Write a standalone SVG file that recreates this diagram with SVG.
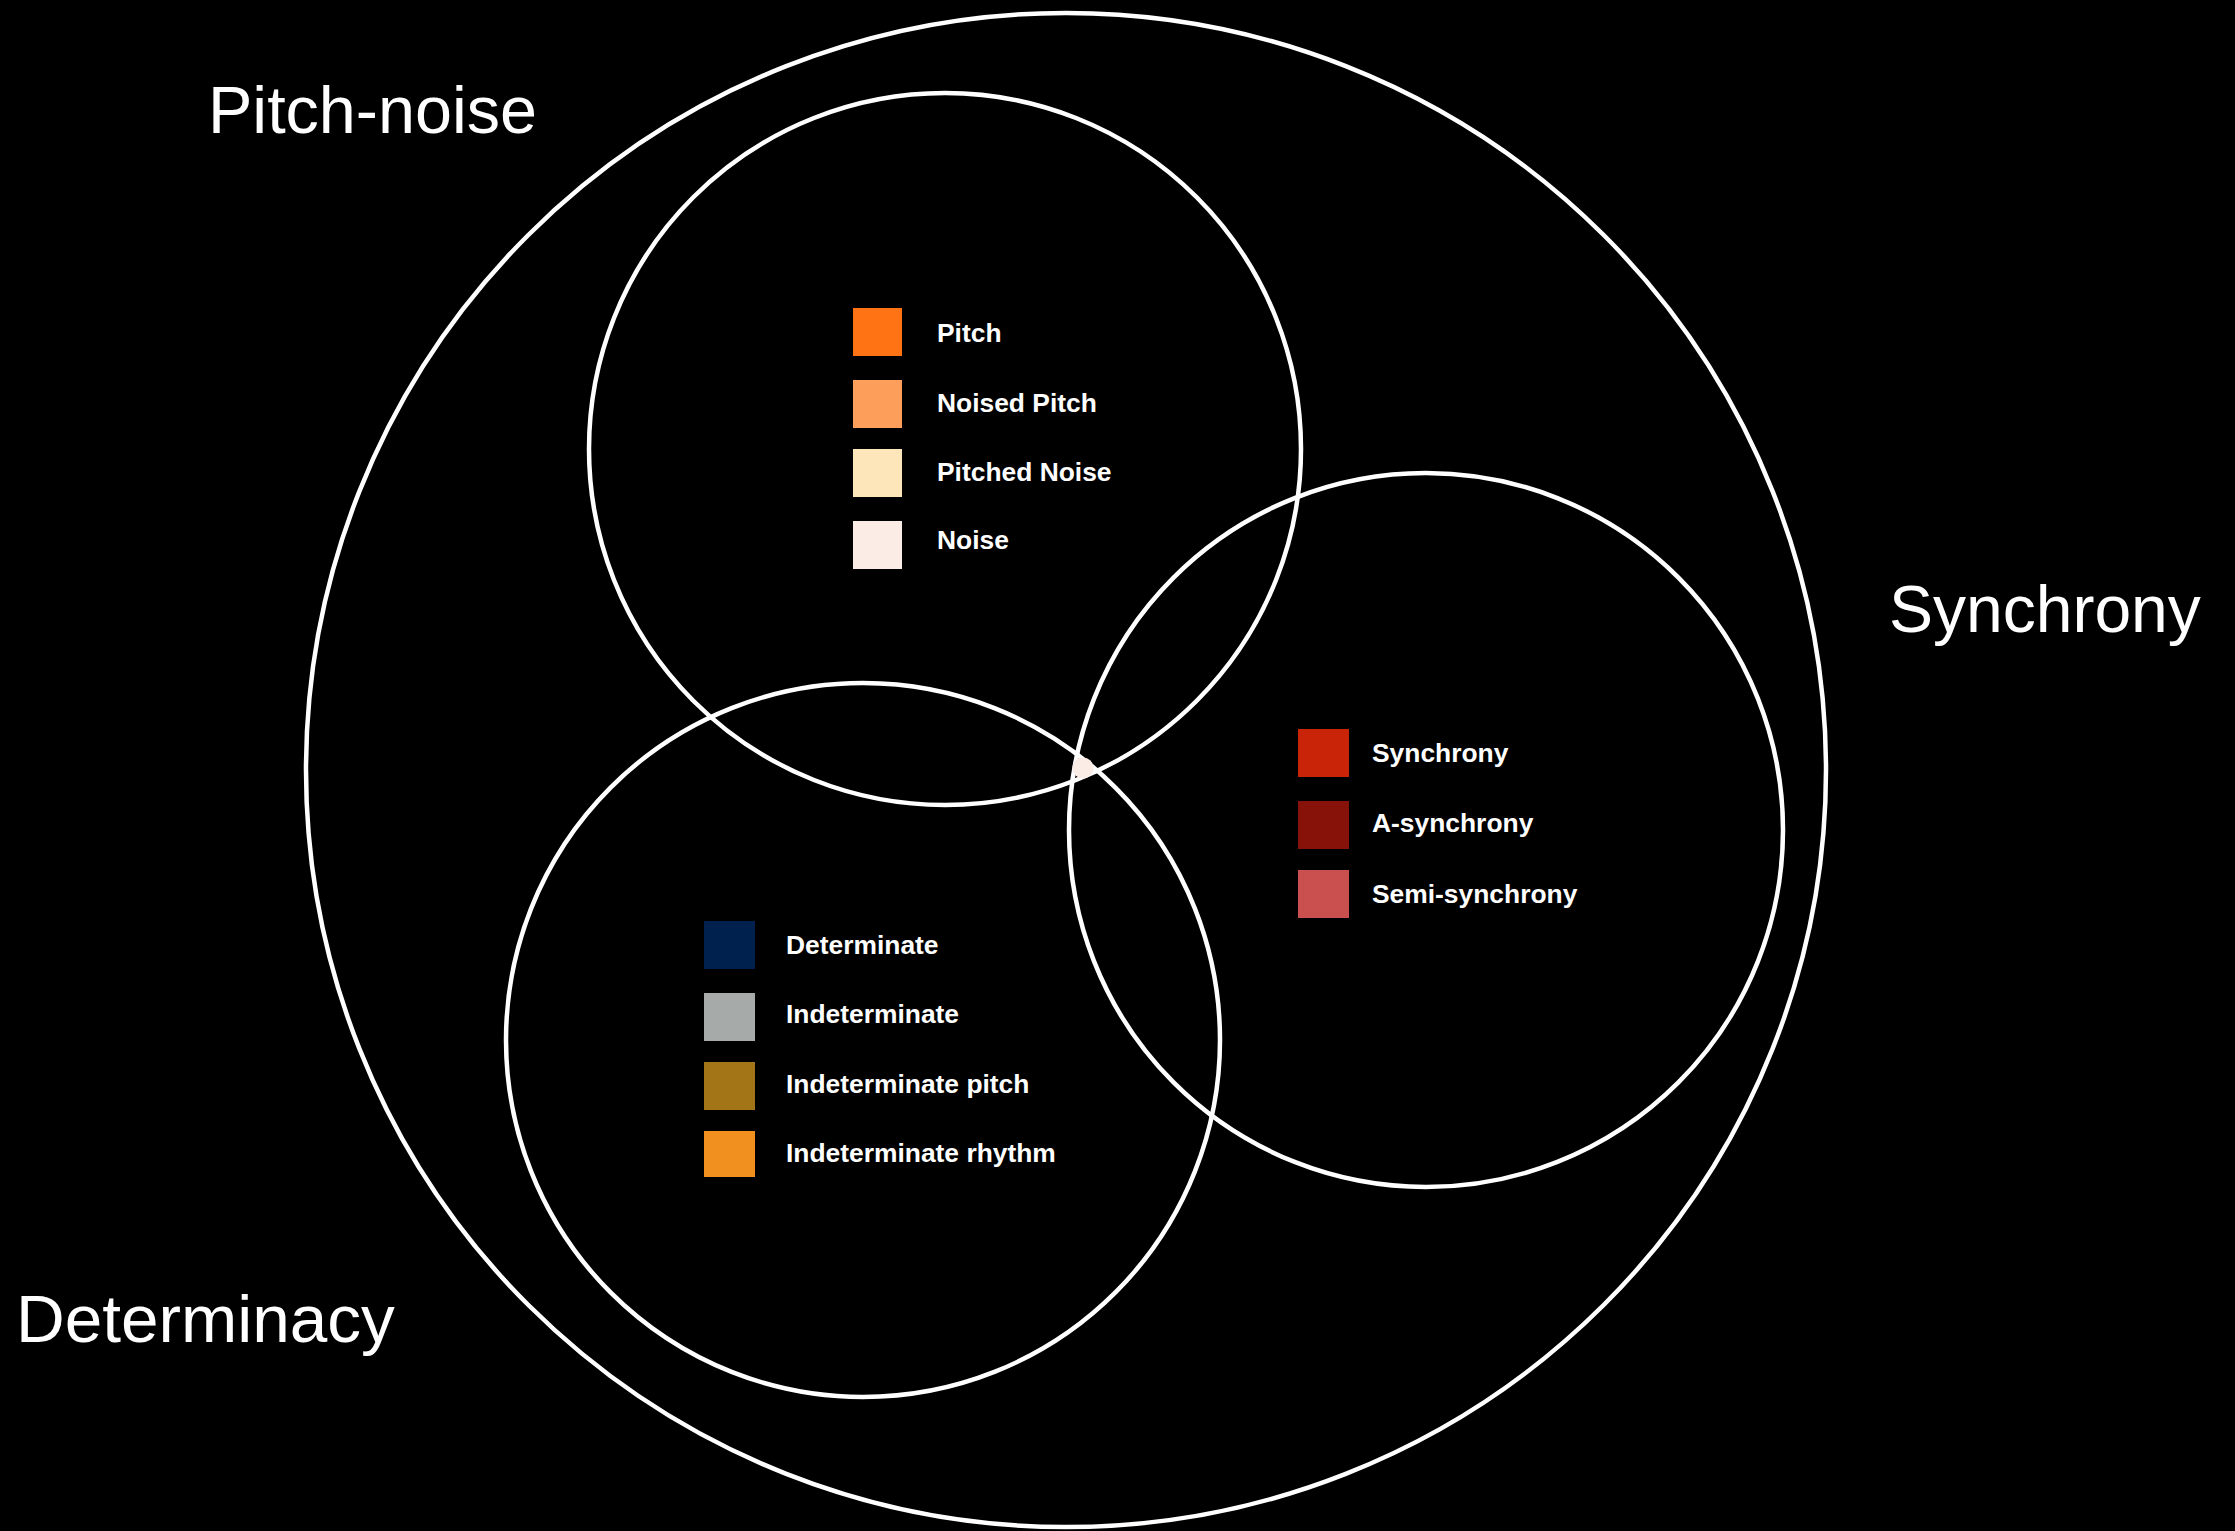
<svg xmlns="http://www.w3.org/2000/svg" width="2235" height="1531" viewBox="0 0 2235 1531">
<style>
.ring{fill:none;stroke:#ffffff;stroke-width:4.5}
.big{font-family:"Liberation Sans",Arial,sans-serif;font-size:66px;fill:#ffffff;font-weight:300}
.lbl{font-family:"Liberation Sans",Arial,sans-serif;font-size:26.4px;font-weight:bold;fill:#ffffff}
</style>
<rect x="0" y="0" width="2235" height="1531" fill="#000000"/>
<g id="outer"><ellipse class="ring" cx="1066" cy="770" rx="760" ry="757"/></g>
<g id="pitch-noise-circle"><circle class="ring" cx="945" cy="449" r="356"/></g>
<g id="synchrony-circle"><circle class="ring" cx="1426" cy="830" r="357"/></g>
<g id="determinacy-circle"><circle class="ring" cx="863" cy="1040" r="357"/></g>
<g id="center-dot"><circle cx="1083" cy="768" r="10.5" fill="#fbece6"/></g>
<g id="titles">
<text class="big" x="208" y="133" style="font-size:66.5px">Pitch-noise</text>
<text class="big" x="1889" y="632">Synchrony</text>
<text class="big" x="16" y="1342" style="font-size:67.5px">Determinacy</text>
</g>
<g id="legend-pitch">
<rect x="853" y="308" width="49" height="48" fill="#ff7314"/><text class="lbl" x="937" y="342">Pitch</text>
<rect x="853" y="380" width="49" height="48" fill="#fd9f5b"/><text class="lbl" x="937" y="412">Noised Pitch</text>
<rect x="853" y="449" width="49" height="48" fill="#fee6bb"/><text class="lbl" x="937" y="481">Pitched Noise</text>
<rect x="853" y="521" width="49" height="48" fill="#fbece6"/><text class="lbl" x="937" y="549">Noise</text>
</g>
<g id="legend-sync">
<rect x="1298" y="729" width="51" height="48" fill="#c92408"/><text class="lbl" x="1372" y="762">Synchrony</text>
<rect x="1298" y="801" width="51" height="48" fill="#86120a"/><text class="lbl" x="1372" y="832">A-synchrony</text>
<rect x="1298" y="870" width="51" height="48" fill="#c9504f"/><text class="lbl" x="1372" y="903">Semi-synchrony</text>
</g>
<g id="legend-det">
<rect x="704" y="921" width="51" height="48" fill="#00214d"/><text class="lbl" x="786" y="954">Determinate</text>
<rect x="704" y="993" width="51" height="48" fill="#a6aaa9"/><text class="lbl" x="786" y="1023">Indeterminate</text>
<rect x="704" y="1062" width="51" height="48" fill="#a47517"/><text class="lbl" x="786" y="1093">Indeterminate pitch</text>
<rect x="704" y="1131" width="51" height="46" fill="#f2901f"/><text class="lbl" x="786" y="1162">Indeterminate rhythm</text>
</g>
<g id="connectors"></g>
</svg>
